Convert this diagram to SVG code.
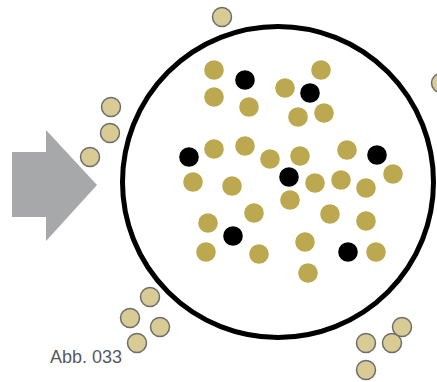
<svg xmlns="http://www.w3.org/2000/svg" width="437" height="382" viewBox="0 0 437 382">
  <style>
    .cell { fill: none; stroke: #000; stroke-width: 5; }
    .arrow { fill: #a7a8aa; }
    .out { fill: #cebf79; fill-opacity: 0.8; stroke: #6d6d6d; stroke-width: 1.5; }
    .gold { fill: #bca84e; }
    .dark { fill: #000; }
    .label { font-family: "Liberation Sans", Arial, sans-serif; font-size: 18px; fill: #58595b; }
  </style>

  <!-- inflow arrow -->
  <g id="arrow">
    <polygon class="arrow" points="12,152 46,152 46,130 97,185 46,241 46,217 12,217"/>
  </g>

  <!-- cell boundary -->
  <g id="cell">
    <circle class="cell" cx="278" cy="182" r="155.5"/>
  </g>

  <!-- particles inside the cell -->
  <g id="inner-gold">
    <circle class="gold" cx="214" cy="70" r="9.8"/>
    <circle class="gold" cx="214" cy="97" r="9.8"/>
    <circle class="gold" cx="214" cy="149" r="9.8"/>
    <circle class="gold" cx="193" cy="182" r="9.8"/>
    <circle class="gold" cx="321" cy="70" r="9.8"/>
    <circle class="gold" cx="285" cy="88" r="9.8"/>
    <circle class="gold" cx="249" cy="107" r="9.8"/>
    <circle class="gold" cx="298" cy="117" r="9.8"/>
    <circle class="gold" cx="324" cy="113" r="9.8"/>
    <circle class="gold" cx="245" cy="146" r="9.8"/>
    <circle class="gold" cx="270" cy="159" r="9.8"/>
    <circle class="gold" cx="300" cy="156" r="9.8"/>
    <circle class="gold" cx="347" cy="150" r="9.8"/>
    <circle class="gold" cx="393" cy="174" r="9.8"/>
    <circle class="gold" cx="232" cy="186" r="9.8"/>
    <circle class="gold" cx="315" cy="183" r="9.8"/>
    <circle class="gold" cx="341" cy="180" r="9.8"/>
    <circle class="gold" cx="366" cy="188" r="9.8"/>
    <circle class="gold" cx="290" cy="200" r="9.8"/>
    <circle class="gold" cx="254" cy="213" r="9.8"/>
    <circle class="gold" cx="330" cy="214" r="9.8"/>
    <circle class="gold" cx="366" cy="221" r="9.8"/>
    <circle class="gold" cx="208" cy="223" r="9.8"/>
    <circle class="gold" cx="206" cy="252" r="9.8"/>
    <circle class="gold" cx="305" cy="242" r="9.8"/>
    <circle class="gold" cx="259" cy="254" r="9.8"/>
    <circle class="gold" cx="376" cy="252" r="9.8"/>
    <circle class="gold" cx="308" cy="273" r="9.8"/>
  </g>
  <g id="inner-dark">
    <circle class="dark" cx="245" cy="80" r="9.8"/>
    <circle class="dark" cx="310" cy="93" r="9.8"/>
    <circle class="dark" cx="189" cy="157" r="9.8"/>
    <circle class="dark" cx="377" cy="155" r="9.8"/>
    <circle class="dark" cx="289" cy="177" r="9.8"/>
    <circle class="dark" cx="233" cy="236" r="9.8"/>
    <circle class="dark" cx="348" cy="252" r="9.8"/>
  </g>

  <!-- particles outside the cell -->
  <g id="outer">
    <circle class="out" cx="222" cy="17" r="9.5"/>
    <circle class="out" cx="441" cy="83" r="9.5"/>
    <circle class="out" cx="111" cy="107" r="9.5"/>
    <circle class="out" cx="110" cy="133" r="9.5"/>
    <circle class="out" cx="90" cy="157" r="9.5"/>
    <circle class="out" cx="150" cy="297" r="9.5"/>
    <circle class="out" cx="130" cy="318" r="9.5"/>
    <circle class="out" cx="160" cy="327" r="9.5"/>
    <circle class="out" cx="137" cy="343" r="9.5"/>
    <circle class="out" cx="402" cy="327" r="9.5"/>
    <circle class="out" cx="392" cy="343" r="9.5"/>
    <circle class="out" cx="366" cy="343" r="9.5"/>
    <circle class="out" cx="366" cy="370" r="9.5"/>
  </g>

  <text class="label" x="50" y="363">Abb. 033</text>
</svg>
